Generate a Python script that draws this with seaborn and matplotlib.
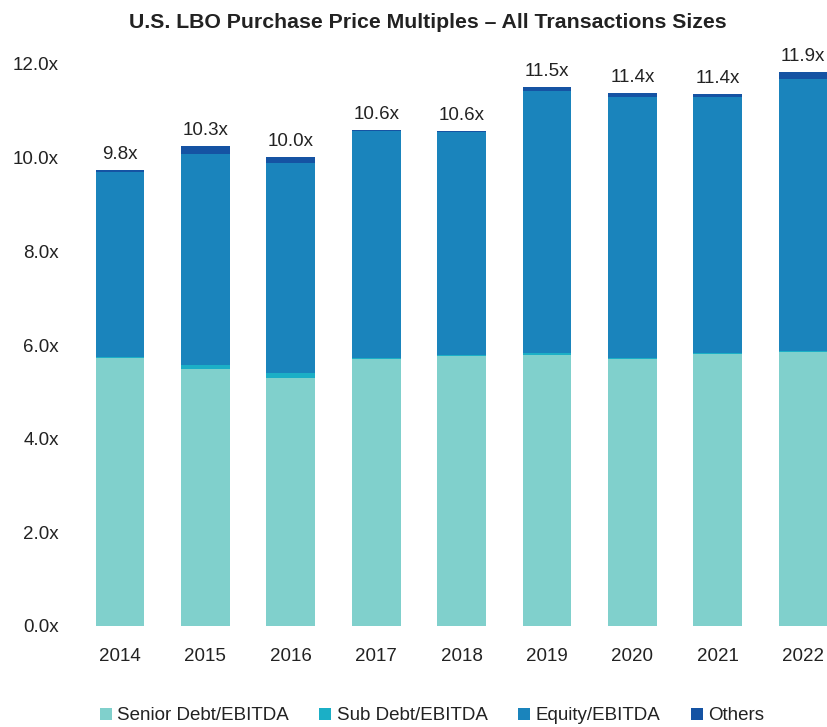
import numpy as np
import pandas as pd
import seaborn as sns
import matplotlib.pyplot as plt
from matplotlib.patches import Patch

years = ['2014', '2015', '2016', '2017', '2018', '2019', '2020', '2021', '2022']
senior = [5.72, 5.49, 5.30, 5.70, 5.77, 5.79, 5.71, 5.81, 5.86]
sub_debt = [0.02, 0.08, 0.10, 0.02, 0.01, 0.04, 0.01, 0.01, 0.01]
equity = [3.96, 4.51, 4.48, 4.84, 4.76, 5.59, 5.57, 5.47, 5.80]
others = [0.04, 0.16, 0.13, 0.03, 0.03, 0.08, 0.10, 0.06, 0.16]
total_labels = ['9.8x', '10.3x', '10.0x', '10.6x', '10.6x', '11.5x', '11.4x', '11.4x', '11.9x']

series_names = ['Senior Debt/EBITDA', 'Sub Debt/EBITDA', 'Equity/EBITDA', 'Others']
colors = ['#80D0CC', '#1BAFC6', '#1A84BC', '#1553A3']

sns.set_theme(style='white')
plt.rcParams['font.family'] = ['Liberation Sans', 'DejaVu Sans']

df = pd.DataFrame({'year': years, 'senior': senior, 'sub': sub_debt,
                   'equity': equity, 'others': others})
# cumulative stacks, drawn from the top down so each layer covers the one above
df['c_senior'] = df.senior
df['c_sub'] = df.c_senior + df['sub']
df['c_equity'] = df.c_sub + df.equity
df['c_others'] = df.c_equity + df.others

fig = plt.figure(figsize=(8.28, 7.27), dpi=100)
ax = fig.add_axes([70 / 828, (727 - 626) / 727, (828 - 70) / 828, (626 - 64) / 727])

for col, color in zip(['c_others', 'c_equity', 'c_sub', 'c_senior'], colors[::-1]):
    sns.barplot(data=df, x='year', y=col, color=color, width=0.57,
                saturation=1, ax=ax, linewidth=0)

for i, lab in enumerate(total_labels):
    ax.text(i, df.c_others[i] + 0.15, lab, ha='center', va='bottom',
            fontsize=13.5, color='#222222', clip_on=False)

ax.set_xlim(-0.585, 8.29)
ax.set_ylim(0, 12)
ax.set_yticks(np.arange(0, 12.1, 2))
ax.set_yticklabels([f'{v:.1f}x' for v in np.arange(0, 12.1, 2)])
ax.tick_params(axis='y', labelsize=13.5, colors='#222222', pad=8, length=0)
ax.tick_params(axis='x', labelsize=13.5, colors='#222222', pad=16, length=0)
ax.set_xlabel('')
ax.set_ylabel('')
sns.despine(ax=ax, left=True, bottom=True)

fig.text(428 / 828, 1 - 22 / 727, 'U.S. LBO Purchase Price Multiples – All Transactions Sizes',
         ha='center', va='center', fontsize=15.3, fontweight='bold', color='#222222')

handles = [Patch(facecolor=c, edgecolor='none') for c in colors]
fig.legend(handles, series_names, loc='center', bbox_to_anchor=(432 / 828, 11 / 727),
           ncol=4, frameon=False, fontsize=13.5, handlelength=0.65, handleheight=0.65,
           handletextpad=0.3, columnspacing=1.6, labelcolor='#222222')

fig.savefig('out.png', dpi=100)
